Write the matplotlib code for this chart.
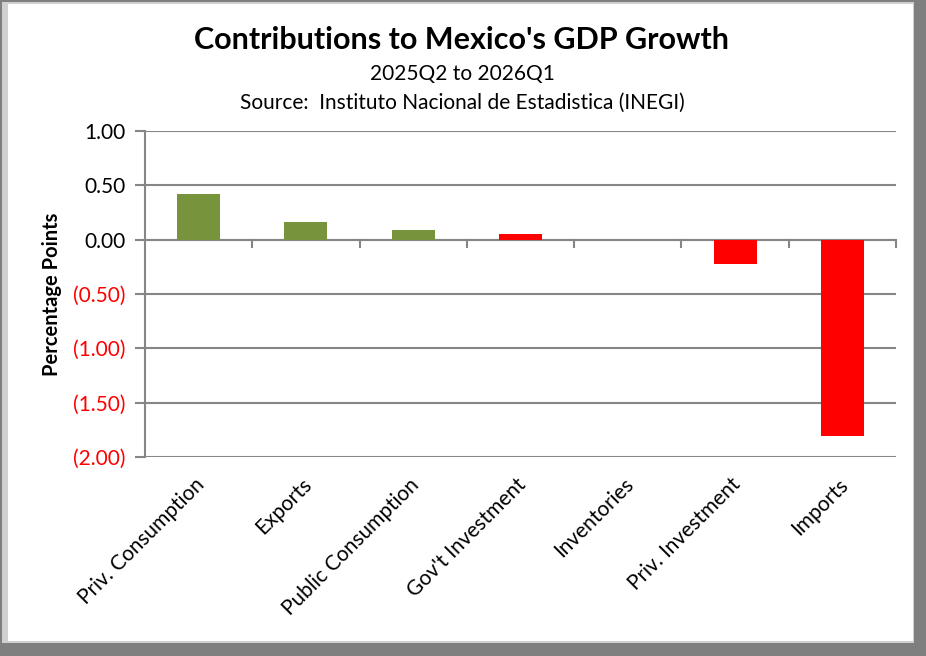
import matplotlib.pyplot as plt
import matplotlib.patches as mpatches
import numpy as np

plt.rcParams['font.family'] = ['Lato', 'DejaVu Sans']

categories = ["Priv. Consumption", "Exports", "Public Consumption",
              "Gov't Investment", "Inventories", "Priv. Investment", "Imports"]
values = [0.42, 0.16, 0.09, 0.05, 0.0, -0.22, -1.81]
bar_colors = ["#77933C", "#77933C", "#77933C", "#FF0000", "#FF0000", "#FF0000", "#FF0000"]
yticks = [1.0, 0.5, 0.0, -0.5, -1.0, -1.5, -2.0]

W, H = 926, 656
fig = plt.figure(figsize=(W / 100, H / 100), dpi=100)
fig.patch.set_facecolor("#8a8a8a")

# bevelled frame: white panel with light left edge and dark shadow right/bottom
fig.patches.append(mpatches.Rectangle((0, 0), 1, 1, transform=fig.transFigure,
                                      facecolor="#7f7f7f", edgecolor="none", zorder=-3))
fig.patches.append(mpatches.Rectangle((2 / W, 13 / H), 912 / W, 641 / H, transform=fig.transFigure,
                                      facecolor="#d0d0d0", edgecolor="none", zorder=-2))
fig.patches.append(mpatches.Rectangle((8 / W, 15 / H), 905 / W, 637 / H, transform=fig.transFigure,
                                      facecolor="white", edgecolor="none", zorder=-1))

ax = fig.add_axes([145 / W, 199 / H, 751 / W, 326 / H])
ax.set_facecolor("none")
x = np.arange(len(categories))
ax.bar(x, values, width=0.4, color=bar_colors, zorder=3)

ax.set_xlim(-0.5, len(categories) - 0.5)
ax.set_ylim(-2.0, 1.0)
ax.set_yticks(yticks)
labels = []
for v in yticks:
    labels.append("(%.2f)" % abs(v) if v < 0 else "%.2f" % v)
ax.set_yticklabels(labels, fontsize=15)
for t, v in zip(ax.get_yticklabels(), yticks):
    t.set_color("#FF0000" if v < 0 else "black")

ax.grid(axis="y", color="#868686", linewidth=1.5, zorder=0)
ax.tick_params(axis="y", length=7, width=1.5, color="#868686", pad=7)
for s in ["top", "right", "bottom"]:
    ax.spines[s].set_visible(False)
ax.spines["left"].set_color("#868686")
ax.spines["left"].set_linewidth(1.5)

# category axis crossing at zero with ticks between categories
ax.axhline(0, color="#868686", linewidth=1.5, zorder=2)
ax.set_xticks([])
for b in np.arange(0.5, len(categories), 1.0):
    ax.plot([b, b], [0, -0.065], color="#868686", linewidth=1.5, zorder=2, clip_on=False)

for xi, name in zip(x, categories):
    ax.text(xi - 0.04, -2.16, name, rotation=45, ha="right", va="top",
            rotation_mode="anchor", fontsize=15,
            transform=ax.transData)

ax.set_ylabel("Percentage Points", fontsize=14.5, fontweight="bold", labelpad=8)

fig.text(462 / W, 1 - 40 / H, "Contributions to Mexico's GDP Growth",
         ha="center", va="center", fontsize=22, fontweight="bold")
fig.text(462 / W, 1 - 74 / H, "2025Q2 to 2026Q1", ha="center", va="center", fontsize=15)
fig.text(462 / W, 1 - 103 / H, "Source:  Instituto Nacional de Estadistica (INEGI)",
         ha="center", va="center", fontsize=15)

fig.savefig("out.png", dpi=100, facecolor=fig.get_facecolor())
